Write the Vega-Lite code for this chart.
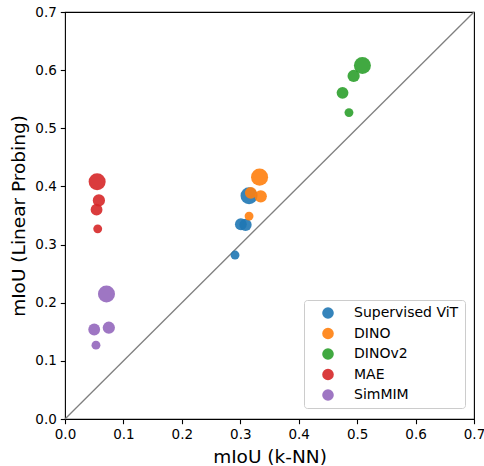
{
  "$schema": "https://vega.github.io/schema/vega-lite/v6.json",
  "width": 409,
  "height": 407,
  "autosize": {"type": "none"},
  "padding": {"left": 65, "top": 12, "right": 10, "bottom": 47},
  "config": {
    "font": "DejaVu Sans",
    "view": {"stroke": "#000", "strokeWidth": 1.1},
    "axis": {
      "grid": false,
      "domain": false,
      "tickColor": "#000",
      "tickSize": 4.7,
      "tickWidth": 1.1,
      "labelFont": "DejaVu Sans",
      "labelFontSize": 13.5,
      "labelColor": "#000",
      "labelPadding": 4,
      "labelFlush": false,
      "titleFont": "DejaVu Sans",
      "titleFontSize": 18.5,
      "titleFontWeight": "normal",
      "titleColor": "#000"
    }
  },
  "layer": [
    {
      "data": {"values": [{"x": 0, "y": 0}, {"x": 0.7, "y": 0.7}]},
      "mark": {"type": "line", "color": "#808080", "strokeWidth": 1.3},
      "encoding": {
        "x": {"field": "x", "type": "quantitative", "scale": {"domain": [0, 0.7], "nice": false}},
        "y": {"field": "y", "type": "quantitative", "scale": {"domain": [0, 0.7], "nice": false}}
      }
    },
    {
      "data": {
        "values": [
          {"method": "Supervised ViT", "model": "S", "knn": 0.291, "lin": 0.282},
          {"method": "Supervised ViT", "model": "B", "knn": 0.301, "lin": 0.335},
          {"method": "Supervised ViT", "model": "L", "knn": 0.309, "lin": 0.334},
          {"method": "Supervised ViT", "model": "g", "knn": 0.315, "lin": 0.384},
          {"method": "DINO", "model": "S", "knn": 0.315, "lin": 0.349},
          {"method": "DINO", "model": "B", "knn": 0.318, "lin": 0.389},
          {"method": "DINO", "model": "L", "knn": 0.335, "lin": 0.383},
          {"method": "DINO", "model": "g", "knn": 0.333, "lin": 0.416},
          {"method": "DINOv2", "model": "S", "knn": 0.486, "lin": 0.527},
          {"method": "DINOv2", "model": "B", "knn": 0.475, "lin": 0.561},
          {"method": "DINOv2", "model": "L", "knn": 0.494, "lin": 0.590},
          {"method": "DINOv2", "model": "g", "knn": 0.509, "lin": 0.608},
          {"method": "MAE", "model": "S", "knn": 0.056, "lin": 0.327},
          {"method": "MAE", "model": "B", "knn": 0.054, "lin": 0.360},
          {"method": "MAE", "model": "L", "knn": 0.058, "lin": 0.376},
          {"method": "MAE", "model": "g", "knn": 0.055, "lin": 0.408},
          {"method": "SimMIM", "model": "S", "knn": 0.053, "lin": 0.127},
          {"method": "SimMIM", "model": "B", "knn": 0.050, "lin": 0.154},
          {"method": "SimMIM", "model": "L", "knn": 0.075, "lin": 0.157},
          {"method": "SimMIM", "model": "g", "knn": 0.071, "lin": 0.215}
        ]
      },
      "mark": {"type": "circle", "opacity": 0.9},
      "encoding": {
        "x": {
          "field": "knn", "type": "quantitative", "title": "mIoU (k-NN)",
          "scale": {"domain": [0, 0.7], "nice": false},
          "axis": {"values": [0, 0.1, 0.2, 0.3, 0.4, 0.5, 0.6, 0.7], "format": ".1f", "titlePadding": 6}
        },
        "y": {
          "field": "lin", "type": "quantitative", "title": "mIoU (Linear Probing)",
          "scale": {"domain": [0, 0.7], "nice": false},
          "axis": {"values": [0, 0.1, 0.2, 0.3, 0.4, 0.5, 0.6, 0.7], "format": ".1f", "titlePadding": 6}
        },
        "color": {
          "field": "method", "type": "nominal",
          "scale": {
            "domain": ["Supervised ViT", "DINO", "DINOv2", "MAE", "SimMIM"],
            "range": ["#1f77b4", "#ff7f0e", "#2ca02c", "#d62728", "#9467bd"]
          },
          "legend": {
            "title": null,
            "orient": "none",
            "legendX": 239,
            "legendY": 288,
            "padding": 6,
            "symbolOffset": 11,
            "symbolSize": 135,
            "symbolType": "circle",
            "symbolOpacity": 0.9,
            "labelFont": "DejaVu Sans",
            "labelFontSize": 14,
            "labelColor": "#000",
            "labelOffset": 19,
            "rowPadding": 6.5,
            "strokeColor": "#cccccc",
            "fillColor": "rgba(255,255,255,0.8)",
            "cornerRadius": 3
          }
        },
        "size": {
          "field": "model", "type": "ordinal",
          "scale": {"type": "ordinal", "domain": ["S", "B", "L", "g"], "range": [79, 140, 150, 290]},
          "legend": null
        }
      }
    }
  ]
}
